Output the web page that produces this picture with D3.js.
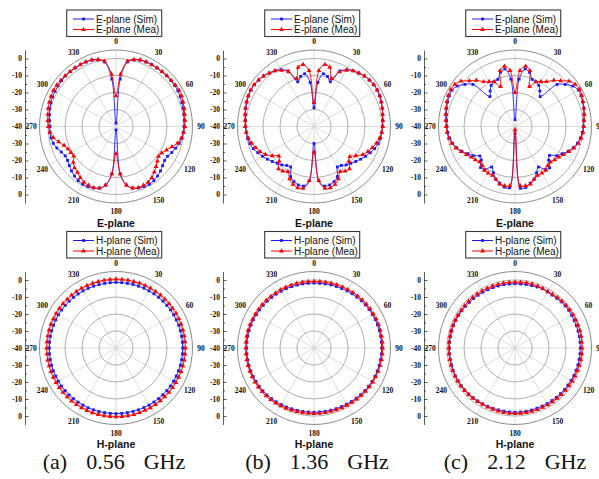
<!DOCTYPE html>
<html>
<head>
<meta charset="utf-8">
<script src="https://cdn.jsdelivr.net/npm/d3@7"></script>
<style>
  body { margin: 0; background: #fff; }
  svg { display: block; }
</style>
</head>
<body>
<svg id="chart" width="599" height="479"></svg>
<script>
// sample angles (deg, clockwise from top), 5 deg step
const angles = d3.range(0, 360, 5);

// E-plane, 0.56 GHz
const eSimA = [-38,-12,-1.5,0.5,1.5,1.8,1.9,2,2,2.1,2.1,2.1,2,1.6,1.2,0.9,0.6,0.3,
  0,-0.3,-0.6,-1.5,-2.7,-3.8,-5,-5.1,-4.2,-3,-2,-1.2,-0.8,-1,-1.5,-2.5,-5,-12,
  -38,-12,-5,-2.5,-1.5,-1,-0.8,-1.2,-2,-3,-4.2,-5.2,-5.5,-4.5,-3,-1.8,-1.2,-1,
  -1.2,-0.8,-0.3,0.3,0.8,1.2,1.4,1.6,1.8,2,2,2,1.9,1.8,1.5,0.5,-1.5,-12];
const eMeaA = [-22,-9,-1,0.8,1.7,2,2,2.1,2.2,2.3,2.4,2.6,2.8,2.6,2,1.5,1,0.8,
  0.5,0,-1,-2.5,-5,-7.2,-8.9,-9.5,-8.3,-6.7,-5,-3.3,-2.2,-1.8,-1.7,-2.5,-5,-12,
  -24,-12,-5,-2.5,-1.7,-1.8,-2.2,-3.3,-4.8,-5.5,-7.2,-9.6,-9.3,-8.8,-7.5,-5,-2.5,-1,
  -0.2,0.3,0.8,1.3,1.8,2.2,2.5,2.5,2.4,2.3,2.2,2.1,2,2,1.7,0.8,-1,-9];

// E-plane, 1.36 GHz
const eSimB = [-29,-14,-8.5,-9.5,-12,-4,-1.5,0,1,2,2.4,2.8,2.8,2.5,2,1.5,1,0.5,
  0.2,0,-0.3,-1,-2,-3.5,-5,-6.5,-8,-9.4,-10.5,-12,-12.5,-7.5,-5.5,-4.4,-4.4,-8,
  -30,-8,-4.4,-4.4,-5.5,-7.5,-12.5,-12,-10.5,-9.4,-8,-6.5,-5,-3.5,-2,-1,-0.3,0,
  0.2,0.5,1,1.5,2,2.5,2.8,2.8,2.4,2,1,0,-1.5,-4,-12,-9.5,-8.5,-14];
const eMeaB = [-26,-7,-3,-4,-10,-4.5,-1.8,0,1,2,2.6,3,3,2.8,2.2,1.6,1,0.7,
  0.5,0,-0.8,-2,-3.5,-5,-6.8,-10,-12.5,-11,-7.5,-8,-9.3,-6,-3.8,-2.7,-3,-8,
  -25,-8,-3,-2.7,-3.8,-6,-9.3,-8,-7.5,-11,-13,-10,-7,-5,-3.5,-2,-0.8,0,
  0.5,0.8,1.2,1.8,2.3,2.8,3,3,2.6,2,1,0,-1.8,-4.5,-10,-4,-3,-7];

// E-plane, 2.12 GHz
const eSimC = [-36,-12,-5.6,-7,-10.5,-11,-12,-14.5,-17,-5,-1.5,1.5,3,2.8,2.3,1.8,1.2,0.6,
  0.2,-0.3,-1,-2,-3.5,-5.5,-8,-10,-13.5,-12,-8.3,-9,-12.5,-10,-7,-5.5,-3.6,-3.5,
  -36,-3.8,-3.8,-5.5,-7,-10,-12.5,-9,-8.5,-12,-13,-10,-8,-5.5,-3.5,-2,-1,-0.3,
  0,0.4,1,1.6,2.2,2.6,2.8,1.5,-1.5,-5,-17,-14.5,-12,-11,-10.5,-7,-5.6,-12];
const eMeaC = [-20,-7,-4,-6,-15,-11,-9.5,-7.8,-4.5,-2,1.5,3.2,3.8,3.3,2.6,2,1.4,0.8,
  0.4,0.2,-0.5,-1.5,-3,-5,-7,-8.5,-9.5,-10.5,-10,-8.5,-8.4,-8.3,-7,-4.9,-4.6,-5,
  -38,-5,-4.6,-4.9,-7,-8.3,-8.4,-8.5,-10,-10.5,-9.5,-8.5,-7,-5,-3,-1.5,-0.5,0.2,
  0.5,0.9,1.5,2,2.7,3.3,3.6,3.2,1.5,-2,-4.5,-7.8,-9.5,-11,-15,-6,-4,-7];

// H-plane, 0.56 GHz
const hSimA = [-1.4,-1.4,-1.4,-1.3,-1.3,-1.2,-1.2,-1.1,-1.1,-1,-1,-0.9,-0.9,-0.9,-0.8,-0.8,-0.8,-0.8,
  -0.8,-0.8,-0.8,-0.8,-0.9,-0.9,-0.9,-1,-1,-1.1,-1.1,-1.2,-1.2,-1.3,-1.3,-1.4,-1.4,-1.4,
  -1.4,-1.4,-1.4,-1.3,-1.3,-1.2,-1.2,-1.1,-1.1,-1,-1,-0.9,-0.9,-0.9,-0.8,-0.8,-0.8,-0.8,
  -0.8,-0.8,-0.8,-0.8,-0.9,-0.9,-0.9,-1,-1,-1.1,-1.1,-1.2,-1.2,-1.3,-1.3,-1.4,-1.4,-1.4];
const hMeaA = [0.5,0.5,0.5,0.5,0.6,0.6,0.6,0.6,0.7,0.7,0.7,0.7,0.8,0.8,0.8,0.8,0.8,0.8,
  0.8,0.8,0.8,0.8,0.8,0.7,0.7,0.7,0.7,0.6,0.6,0.6,0.6,0.5,0.5,0.5,0.5,0.5,
  0.5,0.5,0.5,0.5,0.6,0.6,0.6,0.6,0.7,0.7,0.7,0.7,0.8,0.8,0.8,0.8,0.8,0.8,
  0.8,0.8,0.8,0.8,0.8,0.7,0.7,0.7,0.7,0.6,0.6,0.6,0.6,0.5,0.5,0.5,0.5,0.5];

// H-plane, 1.36 GHz
const hSimB = [-1.8,-1.8,-1.7,-1.6,-1.5,-1.4,-1.2,-1,-0.9,-0.7,-0.6,-0.5,-0.4,-0.3,-0.3,-0.2,-0.2,-0.2,
  -0.2,-0.2,-0.3,-0.3,-0.4,-0.5,-0.6,-0.8,-1,-1.2,-1.4,-1.6,-1.8,-1.9,-2,-2.1,-2.2,-2.2,
  -2.2,-2.2,-2.1,-2,-1.9,-1.7,-1.5,-1.3,-1.1,-0.9,-0.8,-0.7,-0.6,-0.5,-0.5,-0.4,-0.4,-0.4,
  -0.4,-0.4,-0.4,-0.5,-0.6,-0.7,-0.8,-0.9,-1,-1.1,-1.2,-1.3,-1.4,-1.5,-1.6,-1.7,-1.7,-1.8];
const hMeaB = [-0.8,-0.8,-0.7,-0.6,-0.5,-0.4,-0.3,-0.1,0,0.1,0.2,0.3,0.3,0.4,0.4,0.4,0.4,0.4,
  0.4,0.4,0.4,0.3,0.2,0.1,0,-0.2,-0.4,-0.6,-0.8,-1,-1.1,-1.2,-1.3,-1.4,-1.4,-1.4,
  -1.4,-1.4,-1.3,-1.2,-1.1,-0.9,-0.7,-0.5,-0.3,-0.1,0,0.1,0.1,0.2,0.2,0.2,0.2,0.2,
  0.2,0.2,0.2,0.2,0.1,0,-0.1,-0.2,-0.2,-0.3,-0.4,-0.5,-0.5,-0.6,-0.7,-0.7,-0.8,-0.8];

// H-plane, 2.12 GHz
const hSimC = [-2.2,-2.2,-2.1,-2,-1.8,-1.6,-1.9,-2,-1.8,-1.6,-1.5,-1.4,-1.5,-1.6,-1.6,-1.6,-1.6,-1.6,
  -1.6,-1.6,-1.7,-1.7,-1.8,-1.8,-1.9,-2,-2,-2.1,-2.1,-2.2,-2.2,-2.3,-2.3,-2.2,-2.2,-2.2,
  -2.2,-2.2,-2.3,-2.3,-2.2,-2.1,-2,-1.9,-1.8,-1.6,-1.5,-1.4,-1.4,-1.3,-1.3,-1.4,-1.4,-1.4,
  -1.4,-1.4,-1.4,-1.5,-1.5,-1.6,-1.7,-1.8,-1.9,-2,-2,-2.1,-2.1,-2.2,-2.2,-2.2,-2.2,-2.2];
const hMeaC = [-1.2,-1.2,-1.1,-1.1,-1.2,-1.4,-1.6,-1.5,-1.2,-1,-0.8,-0.7,-0.6,-0.6,-0.6,-0.5,-0.5,-0.6,
  -0.6,-0.6,-0.7,-0.8,-0.9,-1,-1.1,-1.2,-1.2,-1.3,-1.3,-1.4,-1.4,-1.4,-1.4,-1.4,-1.4,-1.4,
  -1.4,-1.4,-1.4,-1.5,-1.6,-1.7,-1.7,-1.5,-1.3,-1.2,-1.1,-1,-1,-1,-1,-1,-1,-1,
  -1,-1,-1,-1,-1.1,-1.1,-1.2,-1.3,-1.3,-1.3,-1.2,-1.2,-1.2,-1.2,-1.2,-1.2,-1.2,-1.2];

const captions = ['(a)  0.56  GHz', '(b)  1.36  GHz', '(c)  2.12  GHz'];
const angleTicks = d3.range(0, 360, 30);

const colX = [116, 314, 515];
const rowY = [126.5, 348];
const R_OUT = 76.5;
const BLUE = '#1a1aff', RED = '#ff0000';

const panels = [
  {col: 0, row: 0, plane: 'E', sim: eSimA, mea: eMeaA},
  {col: 1, row: 0, plane: 'E', sim: eSimB, mea: eMeaB},
  {col: 2, row: 0, plane: 'E', sim: eSimC, mea: eMeaC},
  {col: 0, row: 1, plane: 'H', sim: hSimA, mea: hMeaA},
  {col: 1, row: 1, plane: 'H', sim: hSimB, mea: hMeaB},
  {col: 2, row: 1, plane: 'H', sim: hSimC, mea: hMeaC}
];

const r = d3.scaleLinear().domain([-40, 5]).range([0, R_OUT]).clamp(true);
const rad = a => a * Math.PI / 180;
const px = (a, v) => r(v) * Math.sin(rad(a));
const py = (a, v) => -r(v) * Math.cos(rad(a));

const svg = d3.select('#chart');
const tri = d3.symbol().type(d3.symbolTriangle).size(10);
const sq = d3.symbol().type(d3.symbolSquare).size(8);

function drawPanel(p) {
  const cx = colX[p.col], cy = rowY[p.row];
  const g = svg.append('g').attr('transform', `translate(${cx},${cy})`);

  // spokes
  g.selectAll('line.spoke').data(angleTicks).join('line')
    .attr('x1', 0).attr('y1', 0)
    .attr('x2', a => R_OUT * Math.sin(rad(a)))
    .attr('y2', a => -R_OUT * Math.cos(rad(a)))
    .attr('stroke', '#cfcfcf').attr('stroke-width', 0.7);

  // rings
  g.selectAll('circle.ring').data([-30, -20, -10, 0]).join('circle')
    .attr('r', d => r(d)).attr('fill', 'none')
    .attr('stroke', '#8c8c8c').attr('stroke-width', 0.7);
  g.append('circle').attr('r', R_OUT).attr('fill', 'none')
    .attr('stroke', '#6e6e6e').attr('stroke-width', 0.8);

  // angle labels
  g.selectAll('text.ang').data(angleTicks).join('text')
    .attr('x', a => (R_OUT + 8.5) * Math.sin(rad(a)))
    .attr('y', a => -(R_OUT + 8.5) * Math.cos(rad(a)))
    .attr('text-anchor', 'middle').attr('dominant-baseline', 'central')
    .style('font', 'bold 7.5px "Liberation Serif", serif').style('fill', '#111')
    .text(a => a);

  // series
  const line = d3.line().curve(d3.curveCatmullRomClosed.alpha(0.5));
  [[p.sim, BLUE, sq], [p.mea, RED, tri]].forEach(([vals, col, sym]) => {
    const pts = angles.map((a, i) => [px(a, vals[i]), py(a, vals[i])]);
    g.append('path').attr('d', line(pts)).attr('fill', 'none')
      .attr('stroke', col).attr('stroke-width', 0.9);
    g.selectAll(null).data(pts).join('path')
      .attr('transform', d => `translate(${d[0]},${d[1]})`)
      .attr('d', sym()).attr('fill', col);
  });

  // radial axis on the left
  const ax = svg.append('g').attr('transform', `translate(${cx - 91},0)`);
  const yUp = d3.scaleLinear().domain([-40, 5]).range([cy, cy - R_OUT]);
  const yDn = d3.scaleLinear().domain([-40, 5]).range([cy, cy + R_OUT]);
  [[yUp, [-40, -30, -20, -10, 0]], [yDn, [-30, -20, -10, 0]]].forEach(([sc, tv]) => {
    ax.append('g').call(d3.axisLeft(sc).tickValues(tv).tickFormat(d => String(d))
      .tickSizeInner(-3.5).tickSizeOuter(0).tickPadding(3));
    ax.append('g').call(d3.axisLeft(sc).tickValues([-35, -25, -15, -5]).tickFormat('')
      .tickSizeInner(-2).tickSizeOuter(0))
      .select('.domain').remove();
  });
  ax.selectAll('text').style('font', 'bold 7.5px "Liberation Serif", serif').attr('fill', '#111');
  ax.selectAll('line,path').attr('stroke', '#333').attr('stroke-width', 0.8);

  // legend
  const lg = svg.append('g').attr('transform', `translate(${cx},${cy - 116.5})`);
  lg.append('rect').attr('x', -49.3).attr('y', 0).attr('width', 95).attr('height', 26.5)
    .attr('fill', '#fff').attr('stroke', '#3a3a3a').attr('stroke-width', 1.1);
  [[`${p.plane}-plane (Sim)`, BLUE, sq, 9], [`${p.plane}-plane (Mea)`, RED, tri, 19.5]]
    .forEach(([label, col, sym, yy]) => {
      lg.append('line').attr('x1', -43).attr('x2', -22).attr('y1', yy).attr('y2', yy)
        .attr('stroke', col).attr('stroke-width', 1);
      lg.append('path').attr('transform', `translate(-32.5,${yy})`).attr('d', sym()).attr('fill', col);
      lg.append('text').attr('x', -20).attr('y', yy).attr('dominant-baseline', 'central')
        .style('font', '10px "Liberation Sans", Arial, sans-serif').style('fill', '#111')
        .text(label);
    });

  // plane title
  svg.append('text').attr('x', cx).attr('y', cy + 96).attr('text-anchor', 'middle')
    .attr('dominant-baseline', 'central')
    .style('font', 'bold 10.5px "Liberation Sans", Arial, sans-serif').style('fill', '#111')
    .text(`${p.plane}-plane`);
}

panels.forEach(drawPanel);

// captions
svg.selectAll('text.cap').data(captions).join('text')
  .attr('x', (d, i) => [114, 317, 515][i]).attr('y', 469)
  .attr('text-anchor', 'middle').attr('xml:space', 'preserve')
  .style('white-space', 'pre').style('word-spacing', '4px')
  .style('font', '22px "Liberation Serif", "Times New Roman", serif').style('fill', '#111')
  .text(d => d);
</script>
</body>
</html>
